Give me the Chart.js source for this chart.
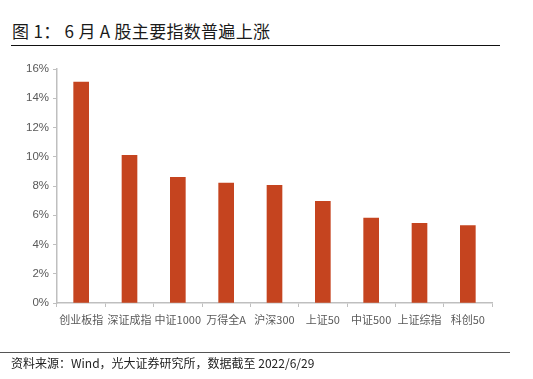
<!DOCTYPE html>
<html>
<head>
<meta charset="utf-8">
<script src="https://cdn.jsdelivr.net/npm/chart.js@4"></script>
<style>
  html, body { margin: 0; padding: 0; background: #fff; }
  body { width: 533px; height: 379px; position: relative; overflow: hidden;
         font-family: "Noto Sans CJK SC", "Noto Sans", sans-serif; }
  #title { position: absolute; left: 12px; top: 18px; font-size: 17px; font-weight: 400;
           color: #1a1a1a; letter-spacing: 0.3px; }
  #title-rule { position: absolute; left: 11px; top: 45px; width: 489px; height: 0;
                border-top: 1.5px solid #111; }
  #src-rule { position: absolute; left: 0; top: 352px; width: 510px; height: 0;
              border-top: 1px solid #555; }
  #source { position: absolute; left: 11px; top: 354px; font-size: 12px; color: #222; }
  #wrap { position: absolute; left: 0; top: 0; width: 533px; height: 379px; }
</style>
</head>
<body>
<div id="title">图 1：&nbsp;6 月 A 股主要指数普遍上涨</div>
<div id="title-rule"></div>
<div id="wrap"><canvas id="chart"></canvas></div>
<div id="src-rule"></div>
<div id="source">资料来源：Wind，光大证券研究所，数据截至 2022/6/29</div>
<script>
/* ── Data ─────────────────────────────────────────────────────── */
var categories = ['创业板指', '深证成指', '中证1000', '万得全A', '沪深300', '上证50', '中证500', '上证综指', '科创50'];
var juneReturns = [15.1, 10.1, 8.6, 8.2, 8.05, 6.95, 5.8, 5.45, 5.3];
var yTicks = [0, 2, 4, 6, 8, 10, 12, 14, 16];

var BAR_COLOR = '#C5441F';
var AXIS_COLOR = '#BFBFBF';
var LABEL_COLOR = '#595959';

new Chart(document.getElementById('chart'), {
  type: 'bar',
  data: {
    labels: categories,
    datasets: [{
      data: juneReturns,
      backgroundColor: BAR_COLOR,
      borderWidth: 0,
      barThickness: 15
    }]
  },
  options: {
    responsive: true,
    maintainAspectRatio: false,
    animation: false,
    layout: { padding: { top: 69, right: 41, bottom: 0, left: 0 } },
    plugins: { legend: { display: false }, tooltip: { enabled: false } },
    scales: {
      x: {
        grid: { display: true, drawOnChartArea: false, color: AXIS_COLOR, tickLength: 4, offset: true },
        border: { color: AXIS_COLOR, width: 1.5 },
        ticks: { color: LABEL_COLOR, font: { family: '"Noto Sans CJK SC"', size: 11 }, padding: 6,
                 maxRotation: 0, autoSkip: false },
        afterFit: function(s) { s.height = 76; }
      },
      y: {
        min: 0, max: 16,
        afterBuildTicks: function(s) { s.ticks = yTicks.map(function(v) { return { value: v }; }); },
        grid: { display: true, drawOnChartArea: false, color: AXIS_COLOR, tickLength: 4 },
        border: { color: AXIS_COLOR, width: 1.5 },
        ticks: { color: LABEL_COLOR, font: { family: '"Liberation Sans", Arial', size: 11.5 }, padding: 4,
                 callback: function(v) { return v + '%'; } },
        afterFit: function(s) { s.width = 57; }
      }
    }
  }
});
</script>
</body>
</html>
